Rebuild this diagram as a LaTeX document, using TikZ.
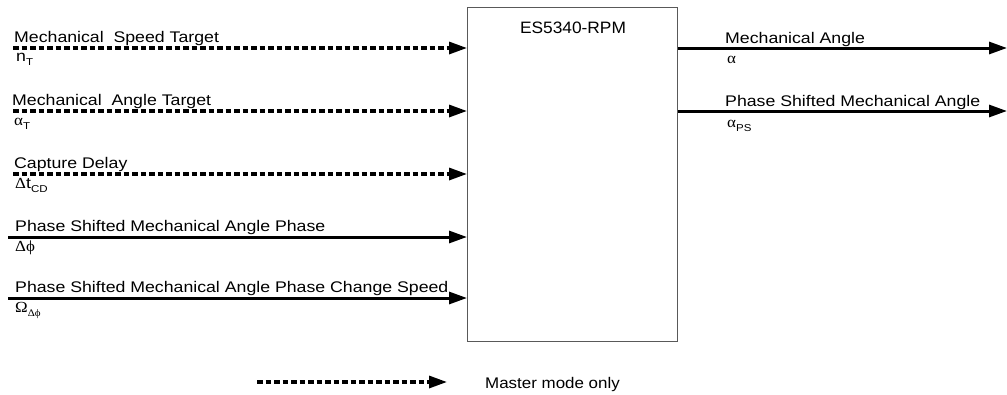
\documentclass[tikz,border=0pt]{standalone}
\usepackage{fontspec}
\setmainfont{Liberation Sans}
\newfontfamily\lblfont{Liberation Sans}[FakeStretch=1.15]
\newfontfamily\grkfont{Liberation Serif}[FakeStretch=1.1]
\newfontfamily\ttlfont{Liberation Sans}[FakeStretch=1.05]
\newfontfamily\keyfont{Liberation Sans}[FakeStretch=1.1]
\usetikzlibrary{arrows.meta,positioning}
\newcommand\lowidx[1]{\raisebox{-4pt}{\fontsize{10}{10}\selectfont#1}}
\newcommand\gk[1]{{\grkfont#1}}

\begin{document}
\begin{tikzpicture}[x=1pt,y=-1pt,
  sigdash/.style={line width=3.2pt,dash pattern=on 5.5pt off 3pt,-{Triangle[length=18pt,width=12pt]}},
  sigline/.style={line width=3pt,-{Triangle[length=18pt,width=12pt]}},
  toplbl/.style={anchor=base west,inner sep=0pt,font=\lblfont\fontsize{15.4}{17}\selectfont},
  botlbl/.style={anchor=base west,inner sep=0pt,font=\lblfont\fontsize{15.4}{17}\selectfont}]
\useasboundingbox (0,0) rectangle (1007,394);

% Block
\node[draw=black!65,line width=1.2pt,minimum width=210pt,minimum height=334pt,
  anchor=north west,inner sep=0pt] (rpm) at (467,7) {};
\node[anchor=base,inner sep=0pt,font=\ttlfont\fontsize{16.5}{18}\selectfont] (rpmname) at (573,33) {ES5340-RPM};

% Inputs
\coordinate (spdin) at (13,48);
\draw[sigdash] (spdin) -- (spdin -| rpm.west);
\node[toplbl] (spdtop) at (14,42) {Mechanical\ \ Speed Target};
\node[botlbl] (spdbot) at (16,61) {n\lowidx{T}};

\coordinate (angin) at (13,111);
\draw[sigdash] (angin) -- (angin -| rpm.west);
\node[toplbl] (angtop) at (12,105) {Mechanical\ \ Angle Target};
\node[botlbl] (angbot) at (14,125) {\gk{α}\lowidx{T}};

\coordinate (capin) at (13,174);
\draw[sigdash] (capin) -- (capin -| rpm.west);
\node[toplbl] (captop) at (14,168) {Capture Delay};
\node[botlbl] (capbot) at (15,188) {\gk{Δ}t\lowidx{CD}};

\coordinate (phin) at (8,237);
\draw[sigline] (phin) -- (phin -| rpm.west);
\node[toplbl] (phtop) at (15,231) {Phase Shifted Mechanical Angle Phase};
\node[botlbl] (phbot) at (15,251) {\gk{Δϕ}};

\coordinate (chgin) at (8,298);
\draw[sigline] (chgin) -- (chgin -| rpm.west);
\node[toplbl] (chgtop) at (15,292) {Phase Shifted Mechanical Angle Phase Change Speed};
\node[botlbl] (chgbot) at (15,312) {\gk{Ω}\lowidx{\gk{Δϕ}}};

% Outputs
\coordinate (angout) at (1007,48);
\draw[sigline] (angout -| rpm.east) -- (angout);
\node[toplbl] (outtop) at (725,43) {Mechanical Angle};
\node[botlbl] (outbot) at (727,63) {\gk{α}};

\coordinate (psout) at (1007,111);
\draw[sigline] (psout -| rpm.east) -- (psout);
\node[toplbl] (pstop) at (725,106) {Phase Shifted Mechanical Angle};
\node[botlbl] (psbot) at (727,127) {\gk{α}\lowidx{PS}};

% Legend
\coordinate (keyl) at (257,382);
\coordinate (keyr) at (447,382);
\draw[sigdash] (keyl) -- (keyr);
\node[anchor=base west,inner sep=0pt,font=\keyfont\fontsize{15.4}{17}\selectfont] (keytxt) at (485,388) {Master mode only};
\end{tikzpicture}
\end{document}
